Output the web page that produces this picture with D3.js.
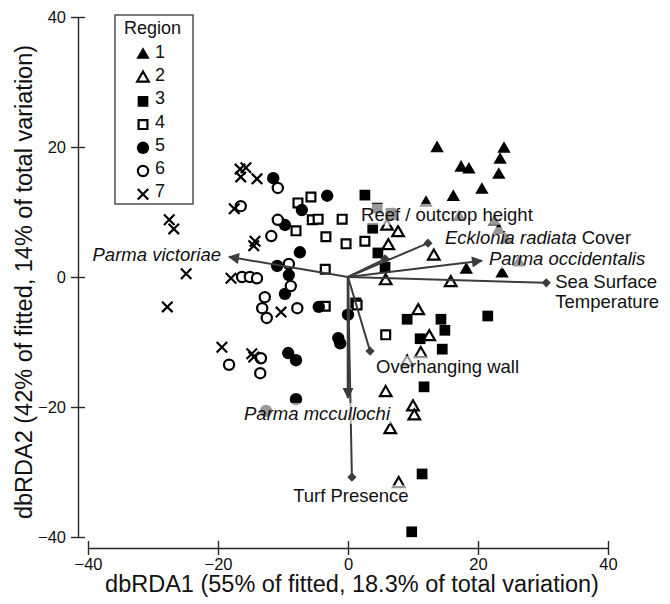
<!DOCTYPE html>
<html>
<head>
<meta charset="utf-8">
<script src="https://cdn.jsdelivr.net/npm/d3@7"></script>
<style>
  body { margin: 0; background: #fff; }
  svg { font-family: "Liberation Sans", Arial, sans-serif; }
</style>
</head>
<body>
<svg id="chart" width="670" height="604"></svg>
<script>
// ---- data ----
var regions = ["1", "2", "3", "4", "5", "6", "7"];

var region1 = [[13.7,19.8],[24.0,19.7],[23.4,18.0],[17.4,16.8],[18.6,16.5],[23.2,15.7],[20.6,13.4],[16.2,12.3],
               [18.2,1.1],[23.7,0.5],[12.0,11.4],[17.1,9.2],[22.5,8.5],[23.2,7.2],[24.3,5.7],[26.3,2.2]];
var region2 = [[6.0,7.8],[7.7,6.8],[6.2,4.8],[6.8,9.4],[13.2,3.2],[5.8,-0.6],[15.8,-0.9],[10.8,-5.2],
               [12.5,-9.2],[11.2,-11.8],[5.8,-17.8],[10.0,-20.0],[10.2,-21.4],[6.5,-23.5],[7.8,-31.8],[9.1,-13.1]];
var region3 = [[2.6,12.6],[3.8,7.5],[4.6,3.7],[5.7,1.5],[4.5,10.6],[6.6,9.8],[9.1,-6.5],[14.3,-6.5],
               [14.9,-8.2],[21.5,-6.0],[11.1,-9.5],[14.5,-11.1],[11.7,-16.9],[11.4,-30.3],[9.8,-39.2]];
var region4 = [[-5.7,12.3],[-7.7,11.4],[-5.5,8.8],[-4.6,8.9],[-0.9,8.9],[-8.0,7.1],[-3.4,6.2],[-0.3,5.1],
               [2.6,5.5],[-3.5,1.2],[-3.5,-4.5],[1.2,-4.0],[1.4,-4.3],[5.8,-8.9]];
var region5 = [[-11.5,15.2],[-3.2,12.5],[-7.1,10.3],[-9.7,8.0],[-7.4,3.8],[-10.9,1.7],[-9.1,0.3],[-9.7,-2.6],
               [-4.5,-4.6],[0.0,-5.8],[-1.5,-9.4],[-1.2,-10.2],[-9.2,-11.7],[-8.0,-12.8],[-8.0,-18.8],[-12.6,-20.6]];
var region6 = [[-10.8,13.7],[-16.5,10.9],[-10.8,8.8],[-11.8,6.3],[-9.1,2.0],[-16.3,0.0],[-15.1,0.0],[-14.0,-0.2],
               [-8.8,-1.4],[-12.8,-3.1],[-13.2,-4.8],[-12.5,-6.3],[-7.8,-4.8],[-18.3,-13.5],[-13.4,-12.5],[-13.5,-14.8]];
var region7 = [[-16.6,16.6],[-15.7,16.8],[-16.5,15.4],[-14.0,15.1],[-17.5,10.5],[-27.5,8.8],[-26.8,7.4],[-14.3,5.5],
               [-14.5,4.8],[-24.9,0.5],[-18.0,-0.2],[-27.8,-4.6],[-19.4,-10.8],[-14.8,-11.8],[-14.5,-12.3],[-10.3,-5.4]];

// vectors: species get arrowheads, environmental variables get diamonds
var vectorNames = ["Parma victoriae", "Reef / outcrop height", "Ecklonia radiata Cover", "Parma occidentalis",
                   "Sea Surface Temperature", "Overhanging wall", "Parma mccullochi", "Turf Presence"];
var vectorX = [-18.3, 5.7, 12.3, 20.6, 30.5, 3.4, 0.0, 0.6];
var vectorY = [3.1, 2.8, 5.2, 2.5, -0.9, -11.4, -18.6, -30.8];
var vectorKind = ["species", "env", "env", "species", "env", "env", "species", "env"];

var xTicks = [-40, -20, 0, 20, 40];
var yTicks = [-40, -20, 0, 20, 40];

// ---- layout ----
var svg = d3.select("#chart");
var x = d3.scaleLinear().domain([-40, 40]).range([88, 608]);
var y = d3.scaleLinear().domain([-40, 40]).range([537, 17]);
var axisColor = "#262626", vecColor = "#3c3c3c";

// label placement relative to the vector tip (pixels)
var labelLayout = [
  {dx: -8, dy: 4, anchor: "end"},
  {dx: -24, dy: -38, anchor: "start"},
  {dx: 17, dy: 1, anchor: "start"},
  {dx: 7, dy: 4, anchor: "start"},
  {dx: 9, dy: 5, anchor: "start"},
  {dx: 6, dy: 22, anchor: "start"},
  {dx: -31, dy: 22, anchor: "middle"},
  {dx: -1, dy: 25, anchor: "middle"}
];

// ---- axes ----
var yAxis = svg.append("g")
  .attr("transform", "translate(78,0)")
  .call(d3.axisLeft(y).tickValues(yTicks).tickSize(7).tickSizeOuter(0).tickPadding(5));
yAxis.selectAll(".tick line").attr("x1", 7);
var xAxis = svg.append("g")
  .attr("transform", "translate(0,548)")
  .call(d3.axisBottom(x).tickValues(xTicks).tickSize(7).tickSizeOuter(0).tickPadding(3));
xAxis.selectAll(".tick line").attr("y1", -7);
svg.selectAll(".domain, .tick line").attr("stroke", axisColor).attr("stroke-width", 1.4);
svg.selectAll(".tick text").attr("font-size", 16.5).attr("fill", "#111")
  .attr("font-family", "Liberation Sans, Arial, sans-serif");

svg.append("text")
  .attr("x", 352).attr("y", 592)
  .attr("text-anchor", "middle").attr("font-size", 23.5).attr("fill", "#111")
  .text("dbRDA1 (55% of fitted, 18.3% of total variation)");
svg.append("text")
  .attr("transform", "translate(32,282) rotate(-90)")
  .attr("text-anchor", "middle").attr("font-size", 23.5).attr("fill", "#111")
  .text("dbRDA2 (42% of fitted, 14% of total variation)");

// ---- symbols ----
var cross = {
  draw: function(ctx, size) {
    var r = Math.sqrt(size) / 2;
    ctx.moveTo(-r, -r); ctx.lineTo(r, r);
    ctx.moveTo(r, -r); ctx.lineTo(-r, r);
  }
};
var styles = [
  {type: d3.symbolTriangle, size: 78, fill: "#000", stroke: "none"},
  {type: d3.symbolTriangle, size: 58, fill: "#fff", stroke: "#000"},
  {type: d3.symbolSquare, size: 115, fill: "#000", stroke: "none"},
  {type: d3.symbolSquare, size: 78, fill: "#fff", stroke: "#000"},
  {type: d3.symbolCircle, size: 120, fill: "#000", stroke: "none"},
  {type: d3.symbolCircle, size: 82, fill: "#fff", stroke: "#000"},
  {type: cross, size: 110, fill: "none", stroke: "#000"}
];
var allRegions = [region1, region2, region3, region4, region5, region6, region7];

function drawSymbol(sel, i) {
  var s = styles[i];
  sel.attr("d", d3.symbol().type(s.type).size(s.size)())
    .attr("fill", s.fill).attr("stroke", s.stroke).attr("stroke-width", 2.2);
}

var pts = svg.append("g");
allRegions.forEach(function(data, i) {
  pts.selectAll(".r" + i).data(data).enter().append("path")
    .attr("class", "r" + i)
    .attr("transform", function(d) { return "translate(" + x(d[0]) + "," + y(d[1]) + ")"; })
    .call(drawSymbol, i);
});

// ---- vectors ----
svg.append("defs").append("marker")
  .attr("id", "arrow").attr("viewBox", "0 -5 10 10")
  .attr("refX", 9).attr("refY", 0)
  .attr("markerUnits", "userSpaceOnUse")
  .attr("markerWidth", 12).attr("markerHeight", 11)
  .attr("orient", "auto")
  .append("path").attr("d", "M0,-5L10,0L0,5Z").attr("fill", vecColor);

var vg = svg.append("g");
vectorNames.forEach(function(name, i) {
  var line = vg.append("line")
    .attr("x1", x(0)).attr("y1", y(0))
    .attr("x2", x(vectorX[i])).attr("y2", y(vectorY[i]))
    .attr("stroke", vecColor).attr("stroke-width", name === "Parma mccullochi" ? 2.6 : 2);
  if (vectorKind[i] === "species") {
    line.attr("marker-end", "url(#arrow)");
  } else {
    vg.append("path")
      .attr("d", d3.symbol().type(d3.symbolSquare).size(42)())
      .attr("transform", "translate(" + x(vectorX[i]) + "," + y(vectorY[i]) + ") rotate(45)")
      .attr("fill", vecColor);
  }
});

// ---- vector labels (semi-opaque white behind, like the original) ----
var lg = svg.append("g");
function addLabel(px, py, anchor, build) {
  var t = lg.append("text")
    .attr("x", px).attr("y", py)
    .attr("text-anchor", anchor).attr("font-size", 18.5).attr("fill", "#111");
  build(t);
  var b = t.node().getBBox();
  lg.insert("rect", function() { return t.node(); })
    .attr("x", b.x).attr("y", b.y).attr("width", b.width).attr("height", b.height)
    .attr("fill", "#fff").attr("fill-opacity", 0.6);
}
vectorNames.forEach(function(name, i) {
  var L = labelLayout[i];
  var px = x(vectorX[i]) + L.dx, py = y(vectorY[i]) + L.dy;
  if (name === "Ecklonia radiata Cover") {
    addLabel(px, py, L.anchor, function(t) {
      t.append("tspan").attr("font-style", "italic").text("Ecklonia radiata");
      t.append("tspan").text(" Cover");
    });
  } else if (name === "Sea Surface Temperature") {
    addLabel(px, py, L.anchor, function(t) { t.text("Sea Surface"); });
    addLabel(px, py + 20, L.anchor, function(t) { t.text("Temperature"); });
  } else {
    addLabel(px, py, L.anchor, function(t) {
      if (vectorKind[i] === "species") t.attr("font-style", "italic");
      t.text(name);
    });
  }
});

// ---- legend ----
var leg = svg.append("g");
leg.append("rect").attr("x", 115).attr("y", 15).attr("width", 78).attr("height", 189)
  .attr("fill", "#fff").attr("stroke", "#444").attr("stroke-width", 1.4);
leg.append("text").attr("x", 124).attr("y", 34).attr("font-size", 18).attr("fill", "#111").text("Region");
regions.forEach(function(r, i) {
  var cy = 55 + i * 23.2;
  leg.append("path").attr("transform", "translate(143," + cy + ")").call(drawSymbol, i);
  leg.append("text").attr("x", 155).attr("y", cy + 3).attr("font-size", 18).attr("fill", "#111").text(r);
});
</script>
</body>
</html>
